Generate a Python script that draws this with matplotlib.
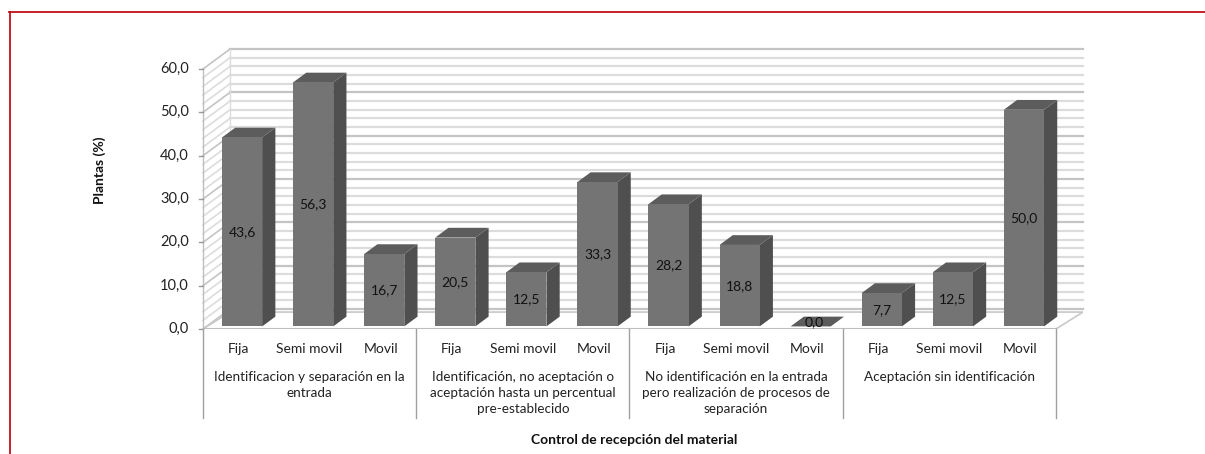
import matplotlib
matplotlib.use("Agg")
import matplotlib.pyplot as plt
from matplotlib.patches import Polygon
import numpy as np

plt.rcParams['font.family'] = ['Lato', 'DejaVu Sans']

# ---- data ----
groups = ["Identificacion y separación en la\nentrada",
          "Identificación, no aceptación o\naceptación hasta un percentual\npre-establecido",
          "No identificación en la entrada\npero realización de procesos de\nseparación",
          "Aceptación sin identificación"]
subcats = ["Fija", "Semi movil", "Movil"]
values = [43.6, 56.3, 16.7,
          20.5, 12.5, 33.3,
          28.2, 18.8, 0.0,
          7.7, 12.5, 50.0]
yticks = [0, 10, 20, 30, 40, 50, 60]
ylabel = "Plantas (%)"
xlabel = "Control de recepción del material"

# ---- style / geometry ----
W, H = 1205, 454
fig = plt.figure(figsize=(W / 100, H / 100), dpi=100)
n = len(values)
DX = 0.38   # depth offset, slot units
DY = 4.6    # depth offset, value units
ymax = 60
left_px, bottom_px = 203, 329
ppx = 71.08
ppy = 260 / 60
ax = fig.add_axes([left_px / W, (H - bottom_px) / H, (n + DX) * ppx / W, (ymax + DY) * ppy / H])
ax.set_xlim(0, n + DX)
ax.set_ylim(0, ymax + DY)
ax.axis('off')

grid_minor = '#dcdcdc'
grid_major = '#c4c4c4'
for v in np.arange(0, ymax + 0.1, 2):
    c = grid_major if v % 10 == 0 else grid_minor
    ax.plot([DX, n + DX], [v + DY, v + DY], color=c, lw=1.6, zorder=1, clip_on=False)
    ax.plot([0, DX], [v, v + DY], color=c, lw=1.2, zorder=1, clip_on=False)
ax.plot([DX, DX], [DY, ymax + DY], color=grid_minor, lw=1, zorder=1)
floor = Polygon([[0, 0], [n, 0], [n + DX, DY * 0.85], [DX, DY * 0.85]], closed=True,
                facecolor='white', edgecolor='#c8c8c8', lw=1.2, zorder=2)
ax.add_patch(floor)
ax.plot([0, n], [0, 0], color='#bdbdbd', lw=1.5, zorder=2)

ax.plot([0, 0], [0, ymax], color='#bfbfbf', lw=1, zorder=2, clip_on=False)
for t in yticks:
    ax.plot([-0.06, 0], [t, t], color='#9a9a9a', lw=1, clip_on=False)
    ax.text(-0.2, t, f"{t:.1f}".replace('.', ','), ha='right', va='center',
            fontsize=10.5, color='#222222')

d0, d1 = 0.13, 0.62
bw = 0.565
front_c, side_c, top_c = '#747474', '#4f4f4f', '#5c5c5c'
for i, v in enumerate(values):
    cx = i + 0.5
    x0 = cx - bw / 2 + d0 * DX
    x1 = cx + bw / 2 + d0 * DX
    yb = d0 * DY
    ddx = (d1 - d0) * DX
    ddy = (d1 - d0) * DY
    yt = yb + v
    side = Polygon([[x1, yb], [x1 + ddx, yb + ddy], [x1 + ddx, yt + ddy], [x1, yt]],
                   closed=True, facecolor=side_c, edgecolor='none', zorder=3)
    top = Polygon([[x0, yt], [x0 + ddx, yt + ddy], [x1 + ddx, yt + ddy], [x1, yt]],
                  closed=True, facecolor=top_c, edgecolor='none', zorder=3)
    ax.add_patch(side)
    ax.add_patch(top)
    if v > 0:
        ax.bar(cx + d0 * DX, v, width=bw, bottom=yb, color=front_c, zorder=3)
    lbl = f"{v:.1f}".replace('.', ',')
    if v > 3:
        ax.text(cx + d0 * DX, yb + v / 2, lbl, ha='center', va='center', fontsize=10, color='#111111', zorder=4)
    else:
        ax.text(cx + d0 * DX + 0.05, yb + v + 0.9, lbl, ha='center', va='center', fontsize=10, color='#111111', zorder=4)

ng = len(groups)
ns = len(subcats)
for g in range(ng + 1):
    xg = g * ns
    ax.plot([xg, xg], [0, -20.5], color='#a0a0a0', lw=1, clip_on=False)
for i in range(n):
    ax.text(i + 0.5, -4.6, subcats[i % ns], ha='center', va='center', fontsize=10, color='#222222')
for g, name in enumerate(groups):
    ax.text(g * ns + ns / 2, -9.6, name, ha='center', va='top', fontsize=9.7,
            color='#222222', linespacing=1.42)

ax.text(-1.45, 36.7, ylabel, rotation=90, ha='center', va='center', fontsize=10,
        fontweight='bold', color='#111111')
ax.text(n / 2 + 0.07, -25.5, xlabel, ha='center', va='center', fontsize=10,
        fontweight='bold', color='#111111')

fig.add_artist(plt.Line2D([9 / W, 1], [1 - 12 / H, 1 - 12 / H], color='#c0101a', lw=1.3))
fig.add_artist(plt.Line2D([9.5 / W, 9.5 / W], [0, 1 - 12 / H], color='#c0101a', lw=1.3))

fig.savefig('out.png', dpi=100)
